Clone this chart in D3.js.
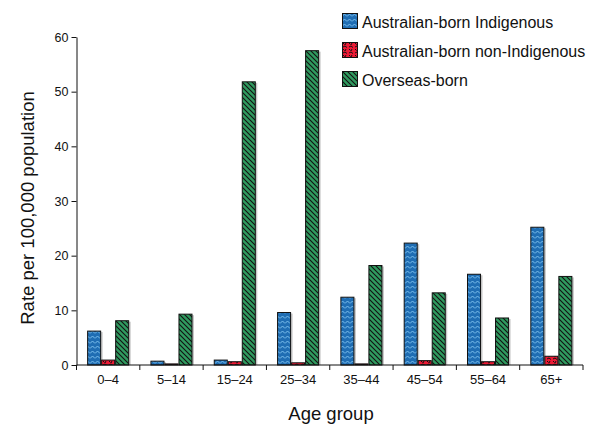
<!DOCTYPE html>
<html><head><meta charset="utf-8">
<script src="https://cdn.jsdelivr.net/npm/d3@7"></script>
<style>body{margin:0;background:#fff}svg{font-family:"Liberation Sans",Arial,sans-serif}</style>
</head><body>
<svg id="c" width="589" height="427"></svg>
<script>
const categories = ["0–4","5–14","15–24","25–34","35–44","45–54","55–64","65+"];
const seriesNames = ["Australian-born Indigenous","Australian-born non-Indigenous","Overseas-born"];
const indigenous = [6.2,0.7,0.9,9.6,12.4,22.3,16.6,25.2];
const nonIndigenous = [0.9,0.2,0.6,0.4,0.2,0.8,0.6,1.6];
const overseas = [8.1,9.3,51.8,57.5,18.2,13.2,8.6,16.2];
const yTicks = [0,10,20,30,40,50,60];

(function(){
const series = [indigenous, nonIndigenous, overseas];
const svg = d3.select("#c");
const defs = svg.append("defs");

const pb = defs.append("pattern").attr("id","pBlue").attr("patternUnits","userSpaceOnUse").attr("width",5).attr("height",5);
pb.append("rect").attr("width",5).attr("height",5).attr("fill","#1f6db3");
pb.append("path").attr("d","M0,3.5 L2.5,1 L5,3.5").attr("fill","none").attr("stroke","#7cc0ee").attr("stroke-width",1);

const pr = defs.append("pattern").attr("id","pRed").attr("patternUnits","userSpaceOnUse").attr("width",6).attr("height",6);
pr.append("rect").attr("width",6).attr("height",6).attr("fill","#ec1a35");
pr.append("path").attr("d","M1,1 L2.5,2.5 M4,1 L3,3 M1,5 L3,4 L5,5.5").attr("fill","none").attr("stroke","#111").attr("stroke-width",1);

const pg = defs.append("pattern").attr("id","pGreen").attr("patternUnits","userSpaceOnUse").attr("width",5).attr("height",5);
pg.append("rect").attr("width",5).attr("height",5).attr("fill","#2f9a5f");
pg.append("path").attr("d","M-1,-1 L6,6 M-1,4 L1,6 M4,-1 L6,1").attr("stroke","#111").attr("stroke-width",1.1);

const fills = ["url(#pBlue)","url(#pRed)","url(#pGreen)"];

const mLeft = 76.5, mRight = 583, mTop = 37, mBottom = 365;
const x0 = d3.scaleBand().domain(categories).range([mLeft,mRight]).paddingInner(0.336).paddingOuter(0.168);
const x1 = d3.scaleBand().domain(d3.range(series.length)).range([0,x0.bandwidth()]);
const y = d3.scaleLinear().domain([0,60]).range([mBottom,mTop]);

categories.forEach((c,i)=>{
  series.forEach((s,j)=>{
    const h = mBottom - y(s[i]);
    svg.append("rect")
      .attr("x", x0(c)+x1(j)+1.5).attr("y", y(s[i])+1)
      .attr("width", x1.bandwidth()).attr("height", Math.max(0,h-1))
      .attr("fill","#c8c8c8");
    svg.append("rect")
      .attr("x", x0(c)+x1(j)+0.5).attr("y", y(s[i]))
      .attr("width", x1.bandwidth()-1).attr("height", h)
      .attr("fill", fills[j]).attr("stroke","#111").attr("stroke-width",1);
  });
});

const yAxis = d3.axisLeft(y).tickValues(yTicks).tickSize(5).tickSizeOuter(0);
const gy = svg.append("g").attr("transform",`translate(${mLeft},0)`).call(yAxis);
gy.select(".domain").attr("stroke","#111");
gy.selectAll(".tick line").attr("stroke","#111");
gy.selectAll("text").attr("font-size",12.5).attr("fill","#111").attr("x",-8).attr("font-family","Liberation Sans, Arial, sans-serif");

const gx = svg.append("g").attr("transform",`translate(0,${mBottom})`);
gx.append("line").attr("x1",mLeft).attr("x2",mRight).attr("stroke","#111");
const bounds = d3.range(categories.length+1).map(k=>mLeft + k*x0.step());
gx.selectAll("line.tk").data(bounds).join("line").attr("class","tk")
  .attr("x1",d=>d).attr("x2",d=>d).attr("y1",0).attr("y2",5).attr("stroke","#111");
gx.selectAll("text").data(categories).join("text")
  .attr("x",d=>x0(d)+x0.bandwidth()/2).attr("y",19)
  .attr("text-anchor","middle").attr("font-size",13).attr("fill","#111").text(d=>d);

svg.append("text").attr("transform","translate(34,208) rotate(-90)")
  .attr("text-anchor","middle").attr("font-size",18.5).attr("fill","#111").text("Rate per 100,000 population");
svg.append("text").attr("x",331).attr("y",420).attr("text-anchor","middle")
  .attr("font-size",18.5).attr("fill","#111").text("Age group");

const lg = svg.append("g").attr("transform","translate(342,13)");
seriesNames.forEach((n,j)=>{
  const g = lg.append("g").attr("transform",`translate(0,${j*29})`);
  g.append("rect").attr("x",0.5).attr("y",0.5).attr("width",15).attr("height",15)
    .attr("fill",fills[j]).attr("stroke","#111");
  g.append("text").attr("x",20).attr("y",14.5).attr("font-size",16).attr("fill","#111").text(n);
});
})();
</script>
</body></html>
